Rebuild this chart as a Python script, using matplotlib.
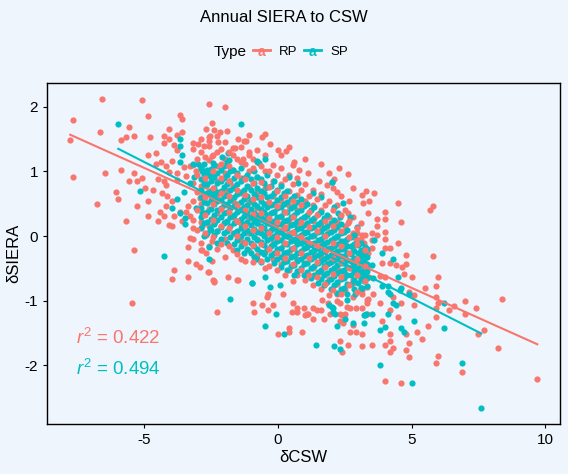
import numpy as np
import matplotlib.pyplot as plt
from matplotlib.lines import Line2D

plt.rcParams['font.family'] = ['Liberation Sans', 'DejaVu Sans']
plt.rcParams['mathtext.fontset'] = 'custom'
plt.rcParams['mathtext.rm'] = 'Liberation Sans'
plt.rcParams['mathtext.it'] = 'Liberation Sans:italic'
plt.rcParams['axes.unicode_minus'] = False

# Данные (δCSW, δSIERA)
types = ['RP', 'SP']
colors = ['#F8766D', '#00BFC4']
r2_vals = [0.422, 0.494]

rp_pts = [
    (-6.58, 2.12), (-5.08, 2.10), (-7.67, 1.79), (-6.65, 1.61), (-5.57, 1.69), (-4.86, 1.86),
    (-2.57, 2.04), (-3.66, 1.87), (-3.60, 1.81), (-7.78, 1.48), (-5.87, 1.48), (-5.68, 1.53),
    (-5.38, 1.55), (-4.78, 1.53), (-7.67, 0.91), (-6.47, 0.97), (-5.87, 1.02), (-5.57, 0.85),
    (-6.06, 0.68), (-5.98, 0.58), (-6.77, 0.49), (-5.27, 0.47), (-5.68, 0.24), (-4.86, 0.31),
    (-5.38, -0.21), (-5.46, -1.03), (-4.86, 1.25), (-4.56, 1.28),
    (-4.07, 1.65), (-4.26, 1.55), (-4.07, 1.51), (-4.26, 1.44), (-3.88, 1.41), (-3.77, 1.56),
    (-3.58, 1.61), (-3.77, 1.33),
    (-5.38, 0.97), (-5.27, 0.86), (-5.08, 0.90), (-4.97, 0.74), (-4.67, 0.71), (-4.86, 0.55),
    (-4.37, 1.14), (-4.18, 1.08), (-3.96, 1.16), (-4.56, 1.11), (-4.48, 0.89), (-4.26, 0.85),
    (-4.18, 0.79), (-4.07, 0.99), (-3.77, 0.97), (-3.77, 0.87), (-4.33, 0.66), (-4.15, 0.62),
    (-3.96, 0.54), (-4.18, 0.46), (-4.41, 0.38), (-4.26, 0.31), (-4.48, 0.23), (-4.07, 0.17),
    (-3.88, 0.31), (-3.96, 0.15), (-3.66, 0.38), (-3.43, 0.38), (-3.58, 0.23), (-3.28, 0.31),
    (-3.36, 0.46),
    (-3.28, -0.03), (-3.36, -0.17), (-2.87, -0.21), (-2.69, -0.27), (-3.36, -0.38), (-3.06, -0.44),
    (-2.46, -0.38), (-3.88, -0.53), (-3.96, -0.67), (-3.36, -0.64), (-2.57, -0.56), (-2.39, -0.70),
    (-2.69, 0.01), (-2.46, -0.07), (-3.17, 0.12), (-2.84, 0.15),
    (-3.17, 1.44), (-2.99, 1.42), (-2.76, 1.39), (-2.87, 1.50), (-2.57, 1.47), (-2.46, 1.75),
    (-2.69, 1.65), (-2.54, 1.55),
    (-3.51, 1.07), (-3.43, 0.93), (-3.28, 1.08), (-3.06, 1.00), (-2.87, 1.08), (-2.46, 1.24),
    (-2.76, 0.85), (-2.54, 0.67), (-2.91, 0.59), (-2.69, 0.77),
    (3.30, 0.69), (3.61, 0.66), (3.13, 0.63), (3.42, 0.54), (4.51, 0.51), (4.02, 0.37),
    (3.72, 0.27), (3.72, 0.15), (4.62, 0.21), (5.69, 0.40), (5.82, 0.46), (4.02, 0.07),
    (4.02, -0.04), (3.53, 0.04), (3.53, -0.06), (3.23, -0.10), (3.72, 0.01), (4.02, -0.18),
    (4.21, -0.18), (4.51, -0.11), (3.53, -0.18), (3.13, 0.01), (4.81, -0.30), (5.82, -0.31),
    (3.91, -0.42), (4.21, -0.42), (4.43, -0.45), (4.66, -0.48), (4.81, -0.44), (4.73, -0.58),
    (5.03, -0.64), (6.00, -0.64), (5.93, -0.78), (5.52, -0.81), (5.11, -0.92), (5.11, -1.06),
    (4.92, -0.86), (4.62, -1.03), (4.32, -0.95), (4.21, -1.14), (4.51, -1.25),
    (3.83, -0.62), (4.02, -0.64), (3.42, -0.64), (3.35, -0.79), (3.13, -0.84), (3.57, -0.90),
    (3.38, -0.97), (3.83, -1.03), (3.91, -1.32),
    (5.93, -0.95), (6.00, -1.04), (5.93, -1.12), (5.93, -1.26), (6.42, -1.15), (6.60, -1.09),
    (7.02, -1.01), (7.02, -1.21), (7.43, -1.12), (7.73, -1.46), (7.50, -1.51), (8.40, -0.97),
    (5.63, -1.40), (5.22, -1.48), (5.40, -1.59), (4.81, -1.52), (4.92, -1.65), (4.81, -1.76),
    (4.92, -1.87), (4.32, -1.73), (4.21, -1.62), (4.21, -1.79), (4.21, -1.51), (4.02, -1.68),
    (3.53, -1.68), (3.13, -1.52), (3.13, -1.71),
    (6.00, -1.85), (5.93, -1.96), (6.90, -2.11), (8.22, -1.74), (9.71, -2.21), (4.02, -2.24),
    (4.62, -2.27), (3.13, -1.12),
    (-2.27, -1.17), (-2.39, -0.71), (-1.49, -0.68), (-0.89, -1.17), (-0.59, -1.06), (-0.36, -0.89),
    (-0.18, -1.06), (-0.36, -1.15), (0.01, -1.52), (0.42, -1.42), (0.42, -1.48), (0.91, -1.48),
    (0.54, -1.18), (0.72, -1.12), (1.02, -1.23), (1.13, -1.21), (1.32, -1.28), (1.32, -1.12),
    (1.73, -1.29), (1.62, -1.14), (1.88, -1.04),
    (2.33, -1.62), (2.41, -1.79), (2.63, -1.69), (2.71, -1.49), (2.93, -1.48), (2.82, -1.38),
    (2.33, -1.32), (2.41, -1.23), (2.52, -1.21), (2.71, -1.11), (2.93, -1.11), (3.32, -0.99),
    (2.45, -1.35), (2.22, -0.89), (2.33, -1.03), (1.64, -0.99),
    (-1.97, 2.00), (-2.39, 1.64), (-2.16, 1.61), (-2.57, 1.53), (-2.23, 1.45), (-1.07, 1.56),
    (-1.26, 1.47), (-1.19, 1.47), (-0.59, 1.53), (-0.48, 1.58), (-1.60, 1.36), (-1.67, 1.36),
    (-0.78, 1.34), (-1.07, 1.30), (-1.30, 1.20), (-0.92, 1.20), (0.01, 1.33), (0.31, 1.31),
    (0.12, 1.25), (0.61, 1.14), (0.57, 1.10), (0.80, 1.03), (1.13, 0.97), (1.55, 0.86),
    (1.92, 0.97), (2.11, 0.89), (2.63, 0.96), (2.82, 0.75), (2.07, 0.75), (1.82, 0.79),
    (2.22, 0.68), (2.37, 0.62), (2.67, 0.55), (4.02, 0.26), (2.93, -0.05),
    (3.20, 0.51), (3.38, 0.35), (2.63, 0.35), (2.63, 0.20), (2.95, 0.04), (3.20, -0.11),
    (3.38, -0.27), (3.32, -0.50), (3.20, -0.58), (2.82, -0.73), (3.13, -0.89), (3.32, -1.04),
    (3.32, -1.20), (2.57, -1.10), (2.32, -1.20), (1.95, -1.20), (1.45, -1.15), (1.07, -1.20),
    (0.57, -1.04), (0.20, -0.89), (-0.42, -0.94), (-0.92, -1.04), (-1.55, -0.68), (-1.86, -0.63),
    (-2.42, -0.68), (-2.61, -0.55), (-2.92, -0.48), (-2.86, -0.22), (0.70, -1.17), (0.99, -1.12),
    (-2.30, 1.55), (-1.90, 1.62), (-1.50, 1.50), (-0.30, 1.42), (0.40, 1.38), (1.00, 1.20),
    (1.60, 1.12), (2.30, 1.05),
]

# плотное ядро RP: столбцы x -> значения y
rp_core = {
    -3.2: [1.35, 1.1, 0.82, 0.55, 0.25, -0.05],
    -2.9: [1.3, 1.05, 0.78, 0.5, 0.22, -0.1],
    -2.6: [1.4, 1.18, 0.95, 0.7, 0.42, 0.15, -0.15],
    -2.3: [1.3, 1.08, 0.85, 0.6, 0.35, 0.08, -0.2],
    -2.0: [1.45, 1.2, 0.97, 0.72, 0.48, 0.22, -0.05, -0.32],
    -1.7: [1.25, 1.02, 0.78, 0.55, 0.3, 0.05, -0.22],
    -1.4: [1.38, 1.15, 0.9, 0.66, 0.42, 0.18, -0.08, -0.35],
    -1.1: [1.25, 1.0, 0.76, 0.52, 0.28, 0.04, -0.22],
    -0.8: [1.15, 0.92, 0.68, 0.44, 0.2, -0.04, -0.3],
    -0.5: [1.25, 1.0, 0.75, 0.5, 0.26, 0.02, -0.24, -0.5],
    -0.2: [1.1, 0.86, 0.62, 0.38, 0.14, -0.1, -0.35],
    0.1: [1.05, 0.8, 0.55, 0.3, 0.06, -0.18, -0.44],
    0.4: [0.95, 0.7, 0.46, 0.22, -0.02, -0.27, -0.52],
    0.7: [0.9, 0.64, 0.4, 0.15, -0.1, -0.35, -0.6],
    1.0: [0.8, 0.55, 0.3, 0.06, -0.18, -0.42, -0.68],
    1.3: [0.72, 0.48, 0.24, 0.0, -0.24, -0.5, -0.76],
    1.6: [0.65, 0.4, 0.16, -0.08, -0.32, -0.56, -0.82],
    1.9: [0.55, 0.3, 0.06, -0.18, -0.42, -0.66, -0.92],
    2.2: [0.48, 0.22, -0.02, -0.26, -0.5, -0.75, -1.0],
    2.5: [0.4, 0.15, -0.1, -0.34, -0.58, -0.84],
    2.8: [0.3, 0.05, -0.2, -0.44, -0.68, -0.94],
    3.1: [0.2, -0.05, -0.3, -0.55, -0.8],
}

# промежуточные столбцы RP, рисуются поверх SP
rp_mid = {
    -3.05: [1.2, 0.95, 0.68, 0.4, 0.1],
    -2.75: [1.22, 0.9, 0.6, 0.32, 0.05],
    -2.45: [1.25, 1.0, 0.75, 0.5, 0.25, -0.02],
    -2.15: [1.35, 1.12, 0.9, 0.66, 0.42, 0.15, -0.12],
    -1.85: [1.3, 1.08, 0.85, 0.62, 0.38, 0.12, -0.15],
    -1.55: [1.2, 0.95, 0.72, 0.48, 0.24, 0.0, -0.28],
    -1.25: [1.12, 0.88, 0.64, 0.4, 0.16, -0.1, -0.38],
    -0.95: [1.05, 0.82, 0.58, 0.34, 0.1, -0.14, -0.4],
    -0.65: [1.08, 0.84, 0.6, 0.36, 0.12, -0.12, -0.38],
    -0.35: [1.0, 0.76, 0.52, 0.28, 0.04, -0.2, -0.46],
    -0.05: [0.95, 0.7, 0.46, 0.22, -0.02, -0.26, -0.52],
    0.25: [0.88, 0.62, 0.38, 0.14, -0.1, -0.34, -0.6],
    0.55: [0.8, 0.55, 0.3, 0.06, -0.18, -0.43, -0.7],
    0.85: [0.72, 0.48, 0.22, -0.02, -0.26, -0.52],
    1.15: [0.62, 0.38, 0.14, -0.1, -0.34, -0.6],
    1.45: [0.58, 0.32, 0.08, -0.16, -0.4, -0.64],
    1.75: [0.48, 0.24, 0.0, -0.24, -0.48, -0.74],
    2.05: [0.4, 0.15, -0.1, -0.34, -0.58, -0.84],
    2.35: [0.32, 0.08, -0.16, -0.4, -0.64, -0.9],
    2.65: [0.24, -0.02, -0.26, -0.5, -0.76],
    2.95: [0.12, -0.12, -0.36, -0.6, -0.86],
    3.25: [0.02, -0.22, -0.46, -0.7],
}

sp_pts = [
    (-5.98, 1.73), (-5.16, 0.69), (-4.26, -0.31), (-3.66, 1.51), (-3.66, 1.39), (-3.58, 1.25),
    (-3.66, 1.14), (-3.17, 1.11), (-2.99, 1.11), (-2.84, 1.00), (-3.13, 0.91), (-3.28, 0.82),
    (-3.51, 0.68), (-3.77, 0.58), (-3.96, 0.43), (-3.66, 0.35), (-3.47, 0.28), (-3.47, 0.18),
    (-3.06, 0.43), (-2.84, 0.36), (-2.54, 0.93), (-2.41, 0.67), (-2.57, -0.17), (-2.57, -0.36),
    (-2.56, 0.13), (-2.41, 0.20),
    (3.61, -0.06), (3.31, -0.19), (3.23, -0.33), (3.13, -0.55), (3.23, -0.64), (3.57, -0.65),
    (3.31, -0.55), (3.53, -0.45), (3.91, -0.27), (4.32, -0.35), (3.91, -0.78), (4.13, -0.78),
    (4.13, -0.87), (4.21, -0.89), (4.51, -0.63), (4.57, -0.84), (4.62, -0.81), (4.92, -0.90),
    (4.32, -1.03), (4.43, -1.06), (4.13, -1.20), (3.53, -1.21), (3.23, -1.35), (3.31, -1.20),
    (3.83, -1.45), (4.02, -1.41), (4.62, -1.43), (4.73, -1.48), (5.11, -1.31), (6.23, -1.04),
    (6.23, -1.42), (6.90, -1.96), (7.61, -2.67), (5.03, -2.28), (3.83, -2.00),
    (-1.79, -0.97), (-0.96, -0.73), (-0.06, -1.20), (-0.48, -1.40), (0.24, -1.51), (1.43, -1.69),
    (2.11, -1.71), (2.33, -1.75), (2.22, -1.40), (2.82, -1.34), (3.23, -1.23), (2.07, -1.17),
    (2.07, -1.12), (1.92, -1.06), (2.51, -1.29),
    (-1.37, 1.73), (-0.48, 1.19), (-0.78, 1.16), (-0.70, 1.13), (0.42, 0.91), (0.76, 0.82),
    (1.32, 0.66), (1.62, 0.60), (2.03, 0.83), (2.11, 0.45), (2.26, 0.35), (2.45, 0.51),
    (-1.86, 1.28), (-1.82, 1.18), (-2.09, 1.22), (-2.42, 1.13), (-2.76, 1.11), (-2.67, 1.02),
    (-2.39, 0.96), (-1.67, 1.02),
    (-0.30, -0.79), (0.07, -0.76), (-0.99, -0.73), (-0.49, -0.63), (2.01, -1.10), (2.13, -1.20),
    (2.57, -0.99), (2.88, -0.89), (3.13, -0.81), (3.26, -1.23), (2.32, 0.30), (2.70, 0.30),
    (2.95, 0.14), (3.26, -0.17), (3.20, -0.32), (2.01, 0.84),
]

# плотное ядро SP: столбцы x -> значения y
sp_core = {
    -2.9: [1.05, 0.88, 0.72, 0.6, 0.43, 0.3, 0.12],
    -2.78: [0.96, 0.8, 0.65, 0.52, 0.36, 0.2, 0.0],
    -2.65: [0.98, 0.8, 0.66, 0.51, 0.38, 0.22, 0.05],
    -2.52: [1.04, 0.85, 0.7, 0.56, 0.42, 0.27, 0.1],
    -2.4: [1.1, 0.92, 0.75, 0.62, 0.49, 0.33, 0.18, 0.02],
    -2.28: [0.98, 0.82, 0.68, 0.55, 0.4, 0.25, 0.08, -0.1],
    -2.15: [1.02, 0.86, 0.7, 0.56, 0.44, 0.3, 0.14, -0.04],
    -2.02: [1.08, 0.9, 0.76, 0.62, 0.5, 0.36, 0.2, 0.04],
    -1.9: [1.15, 0.95, 0.8, 0.64, 0.5, 0.37, 0.24, 0.08, -0.1],
    -1.78: [1.0, 0.86, 0.71, 0.56, 0.43, 0.3, 0.15, -0.02],
    -1.65: [0.9, 0.75, 0.6, 0.46, 0.33, 0.2, 0.05, -0.12],
    -1.52: [0.98, 0.8, 0.65, 0.5, 0.37, 0.24, 0.08, -0.06, -0.22],
    -1.4: [1.05, 0.85, 0.68, 0.52, 0.4, 0.27, 0.13, 0.0, -0.15],
    -1.28: [0.9, 0.72, 0.58, 0.45, 0.31, 0.18, 0.05, -0.1, -0.27],
    -1.15: [0.95, 0.78, 0.62, 0.48, 0.35, 0.22, 0.1, -0.04, -0.2],
    -1.02: [0.88, 0.72, 0.56, 0.42, 0.3, 0.17, 0.04, -0.1, -0.26],
    -0.9: [1.0, 0.82, 0.65, 0.5, 0.36, 0.24, 0.11, -0.02, -0.16, -0.32],
    -0.78: [0.92, 0.75, 0.6, 0.46, 0.33, 0.2, 0.07, -0.06, -0.2, -0.36],
    -0.65: [0.88, 0.7, 0.55, 0.42, 0.29, 0.16, 0.04, -0.09, -0.24, -0.4],
    -0.52: [0.82, 0.66, 0.5, 0.37, 0.25, 0.12, 0.0, -0.14, -0.28],
    -0.4: [0.95, 0.76, 0.6, 0.45, 0.32, 0.2, 0.07, -0.06, -0.2, -0.35],
    -0.28: [0.78, 0.62, 0.48, 0.35, 0.22, 0.1, -0.03, -0.16, -0.3],
    -0.15: [0.85, 0.66, 0.5, 0.37, 0.24, 0.12, 0.0, -0.13, -0.27, -0.42],
    -0.02: [0.72, 0.56, 0.43, 0.3, 0.18, 0.05, -0.07, -0.2, -0.36],
    0.1: [0.78, 0.6, 0.45, 0.31, 0.18, 0.06, -0.06, -0.19, -0.33, -0.48],
    0.22: [0.66, 0.5, 0.37, 0.24, 0.12, 0.0, -0.13, -0.26, -0.4],
    0.35: [0.7, 0.52, 0.38, 0.25, 0.12, 0.0, -0.12, -0.25, -0.38, -0.53],
    0.48: [0.58, 0.43, 0.3, 0.17, 0.05, -0.07, -0.2, -0.33, -0.47],
    0.6: [0.62, 0.46, 0.32, 0.19, 0.06, -0.06, -0.18, -0.31, -0.45, -0.6],
    0.72: [0.52, 0.37, 0.24, 0.11, -0.01, -0.13, -0.26, -0.39, -0.54],
    0.85: [0.58, 0.4, 0.26, 0.13, 0.01, -0.11, -0.23, -0.36, -0.5],
    0.98: [0.46, 0.3, 0.17, 0.05, -0.07, -0.19, -0.31, -0.44, -0.6],
    1.1: [0.5, 0.33, 0.2, 0.07, -0.05, -0.17, -0.29, -0.42, -0.56],
    1.22: [0.4, 0.25, 0.12, 0.0, -0.12, -0.24, -0.36, -0.5, -0.65],
    1.35: [0.45, 0.28, 0.14, 0.02, -0.1, -0.21, -0.33, -0.46, -0.6],
    1.48: [0.34, 0.19, 0.06, -0.06, -0.18, -0.3, -0.42, -0.56, -0.72],
    1.6: [0.38, 0.22, 0.08, -0.04, -0.16, -0.27, -0.39, -0.52, -0.66],
    1.72: [0.28, 0.13, 0.0, -0.12, -0.23, -0.35, -0.47, -0.6, -0.76],
    1.85: [0.32, 0.16, 0.03, -0.09, -0.2, -0.32, -0.44, -0.57, -0.71],
    1.98: [0.2, 0.06, -0.06, -0.18, -0.29, -0.4, -0.52, -0.66, -0.82],
    2.1: [0.25, 0.1, -0.03, -0.15, -0.26, -0.37, -0.49, -0.62, -0.76],
    2.22: [0.14, 0.0, -0.12, -0.23, -0.34, -0.45, -0.57, -0.71, -0.88],
    2.35: [0.18, 0.04, -0.08, -0.2, -0.31, -0.42, -0.54, -0.67, -0.82],
    2.48: [0.06, -0.08, -0.2, -0.31, -0.42, -0.53, -0.65, -0.8],
    2.6: [0.1, -0.04, -0.15, -0.26, -0.37, -0.48, -0.6, -0.74, -0.9],
    2.72: [-0.02, -0.16, -0.28, -0.39, -0.5, -0.61, -0.74],
    2.85: [0.02, -0.12, -0.23, -0.34, -0.45, -0.56, -0.68, -0.82],
    2.98: [-0.14, -0.27, -0.38, -0.49, -0.6, -0.72],
    3.1: [-0.1, -0.22, -0.33, -0.44, -0.55, -0.66, -0.8],
    3.22: [-0.26, -0.37, -0.48, -0.59, -0.7],
    3.35: [-0.2, -0.32, -0.43, -0.54, -0.65, -0.78],
}


def collect(pts, *cores):
    xs = [p[0] for p in pts]
    ys = [p[1] for p in pts]
    for core in cores:
        for x, col in core.items():
            xs += [x] * len(col)
            ys += col
    return np.array(xs), np.array(ys)


rp_x, rp_y = collect(rp_pts, rp_core)
rpm_x, rpm_y = collect([], rp_mid)
sp_x, sp_y = collect(sp_pts, sp_core)

bg = '#EEF5FD'
fig = plt.figure(figsize=(5.68, 4.74), dpi=100, facecolor=bg)
ax = fig.add_axes([0.0827, 0.1055, 0.9033, 0.7194], facecolor=bg)

ax.scatter(rp_x, rp_y, s=20, color=colors[0], linewidths=0, zorder=2)
ax.scatter(sp_x, sp_y, s=20, color=colors[1], linewidths=0, zorder=2)
ax.scatter(rpm_x, rpm_y, s=20, color=colors[0], linewidths=0, zorder=2)

# линии регрессии по данным
fits = [(np.concatenate([rp_x, rpm_x]), np.concatenate([rp_y, rpm_y])), (sp_x, sp_y)]
for (xs, ys), c in zip(fits, colors):
    k, b = np.polyfit(xs, ys, 1)
    xx = np.array([xs.min(), xs.max()])
    ax.plot(xx, k * xx + b, color=c, linewidth=1.5, zorder=3)

ax.text(-7.55, -1.57, r'$r^2$ = %.3f' % r2_vals[0], color=colors[0], fontsize=13.5,
        va='center', ha='left')
ax.text(-7.55, -2.05, r'$r^2$ = %.3f' % r2_vals[1], color=colors[1], fontsize=13.5,
        va='center', ha='left')

ax.set_xlim(-8.65, 10.56)
ax.set_ylim(-2.91, 2.37)
ax.set_xticks([-5, 0, 5, 10])
ax.set_yticks([-2, -1, 0, 1, 2])
ax.tick_params(labelsize=11, length=3, width=0.8, colors='black')
for sp in ax.spines.values():
    sp.set_linewidth(1.0)
    sp.set_color('black')
ax.set_xlabel('δCSW', fontsize=12, labelpad=2)
ax.set_ylabel('δSIERA', fontsize=12, labelpad=2)

fig.text(0.5, 0.963, 'Annual SIERA to CSW', ha='center', va='center', fontsize=12)

# легенда сверху
ly = 1 - 52 / 474
fig.text(214 / 568, ly, 'Type', ha='left', va='center', fontsize=11)
for i, (name, c) in enumerate(zip(types, colors)):
    x0 = (253 + i * 51) / 568
    fig.add_artist(Line2D([x0, x0 + 17 / 568], [ly + 2 / 474, ly + 2 / 474], color=c,
                          linewidth=2, transform=fig.transFigure))
    fig.text(x0 + 8.5 / 568, ly, 'a', color=c, ha='center', va='center', fontsize=10,
             fontweight='bold')
    fig.text(x0 + 26 / 568, ly, name, ha='left', va='center', fontsize=9.5)

plt.savefig('out.png', dpi=100, facecolor=bg)
